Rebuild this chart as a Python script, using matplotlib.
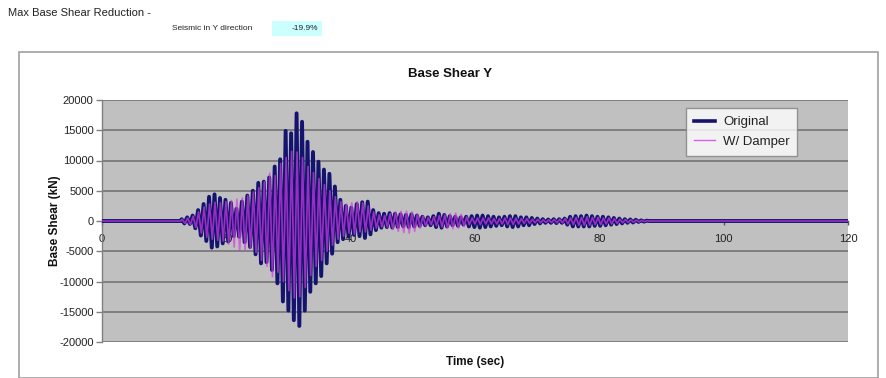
import numpy as np
import matplotlib
matplotlib.use("Agg")
import matplotlib.pyplot as plt
from matplotlib.lines import Line2D
from matplotlib.patches import Rectangle

plt.rcParams['font.family'] = ['Liberation Sans', 'DejaVu Sans']

# ---- data (half-cycle peak values) ----
t_start_orig = 12.82   # s, first half-cycle of Original
t_start_damp = 12.90   # s, first half-cycle of W/ Damper
half_period = 0.44     # s, sampling between successive peaks
t_end = 120.0

original = [
    300, -400, 600, -500, 900, -1200, 1800, -2400, 2800, -3300,
    4000, -4400, 4400, -4200, 3800, -3700, 3500, -3400, 3000, -2500,
    2000, -2600, 3200, -3500, 4200, -4300, 5000, -5500, 6300, -7000,
    6500, -6800, 7200, -8100, 9000, -10300, 10200, -13300, 14900, -14800,
    14500, -16400, 17800, -17350, 16400, -14800, 13100, -11700, 11400, -10300,
    9800, -9100, 8500, -7000, 7800, -5400, 5700, -3500, 3500, -3000,
    2500, -2600, 2200, -2300, 2800, -2500, 3100, -2800, 3200, -2200,
    1800, -1500, 1300, -1100, 1200, -1000, 1300, -1100, 1200, -1000,
    1100, -900, 1000, -1000, 1100, -900, 900, -800, 700, -700,
    600, -700, 800, -1000, 1200, -1100, 1000, -900, 800, -700,
    700, -800, 600, -600, 700, -900, 800, -1000, 900, -1100,
    900, -1000, 800, -900, 700, -800, 600, -700, 700, -900,
    800, -1000, 800, -900, 600, -700, 600, -700, 500, -500,
    400, -400, 300, -300, 250, -300, 300, -350, 300, -300,
    400, -600, 700, -900, 800, -900, 800, -900, 900, -900,
    800, -800, 700, -800, 700, -700, 600, -600, 500, -500,
    400, -400, 300, -300, 250, -250, 200, -150, 100, -100,
    50, 0,
]

damper = [
    300, -400, 500, -600, 800, -1100, 1500, -2000, 2300, -2700,
    2800, -3000, 3100, -3200, 3000, -3300, 3200, -3800, 3400, -4300,
    3600, -4900, 3800, -4700, 4200, -4500, 4800, -5200, 5500, -6500,
    6500, -7500, 7900, -9200, 7500, -8500, 9500, -10000, 10500, -11500,
    11500, -12700, 11400, -12500, 10500, -11000, 9000, -9000, 8000, -7500,
    7000, -6500, 6000, -5000, 5000, -4000, 4000, -3000, 3200, -2500,
    2800, -2000, 3000, -2200, 3200, -1800, 3000, -1800, 2500, -1500,
    1500, -1200, 1000, -1000, 900, -1000, 1200, -1400, 1500, -1700,
    1600, -1900, 1600, -2000, 1500, -1700, 1200, -1200, 800, -800,
    600, -600, 700, -800, 900, -1000, 1000, -1200, 1200, -1300,
    1300, -1200, 1100, -900, 700, -600, 500, -500, 500, -600,
    500, -500, 500, -500, 400, -500, 400, -500, 500, -600,
    500, -600, 500, -500, 400, -400, 400, -400, 300, -300,
    300, -300, 200, -250, 200, -250, 250, -300, 300, -300,
    400, -500, 500, -600, 600, -700, 600, -700, 700, -700,
    600, -600, 600, -600, 500, -500, 500, -500, 400, -400,
    300, -300, 250, -250, 200, -200, 150, -150, 100, -100,
    50, 0,
]

x_ticks = [0, 20, 40, 60, 80, 100, 120]
y_ticks = [-20000, -15000, -10000, -5000, 0, 5000, 10000, 15000, 20000]
series_names = ["Original", "W/ Damper"]
reduction_label = "Seismic in Y direction"
reduction_value = "-19.9%"


def build(values, t0):
    t = t0 + half_period * np.arange(len(values))
    t = np.concatenate([[0.0], [t0 - 0.2], t, [t_end]])
    v = np.concatenate([[0.0], [0.0], np.asarray(values, float), [0.0]])
    return t, v


t_o, v_o = build(original, t_start_orig)
t_d, v_d = build(damper, t_start_damp)

# ---- figure ----
W, H = 886, 378
fig = plt.figure(figsize=(W / 100, H / 100), dpi=100)
fig.patch.set_facecolor('white')

# chart border
fig.patches.append(Rectangle((19 / W, 0.0), (878 - 19) / W, (H - 52) / H,
                             transform=fig.transFigure, fill=False,
                             edgecolor='#a0a0a0', linewidth=1.2))

ax = fig.add_axes([102 / W, (H - 342) / H, (848 - 102) / W, (342 - 100) / H])
ax.set_facecolor('#c0c0c0')
ax.set_xlim(0, 120)
ax.set_ylim(-20000, 20000)
ax.set_yticks(y_ticks)
ax.set_yticklabels([str(v) for v in y_ticks])
ax.set_xticks(x_ticks)
ax.set_xticklabels([str(v) for v in x_ticks])
ax.yaxis.grid(True, color='#7a7a7a', linewidth=1.3)
ax.set_axisbelow(True)

for s in ['top', 'right']:
    ax.spines[s].set_visible(False)
ax.spines['left'].set_color('#808080')
ax.spines['left'].set_linewidth(1.0)
ax.spines['bottom'].set_position(('data', 0))
ax.spines['bottom'].set_color('#555555')
ax.spines['bottom'].set_linewidth(1.0)

ax.tick_params(axis='y', direction='out', length=4, width=1, color='#808080',
               labelsize=8, pad=2, labelcolor='#222222')
ax.tick_params(axis='x', direction='out', length=3, width=1, color='#555555',
               labelsize=8, pad=6, labelcolor='#222222')

ax.plot(t_o, v_o, color='#141470', linewidth=2.8, solid_joinstyle='round',
        zorder=3)
ax.plot(t_d, v_d, color='#d43ae6', linewidth=1.2, alpha=0.7, zorder=4)

# legend
handles = [Line2D([], [], color='#141470', linewidth=2.6),
           Line2D([], [], color='#d43ae6', linewidth=1.0, alpha=0.8)]
leg = ax.legend(handles, series_names, loc='upper left',
                bbox_to_anchor=((686 - 102) / 746, (342 - 108) / 242),
                frameon=True, fancybox=False, fontsize=9.5,
                handlelength=1.6, handletextpad=0.6, borderpad=0.6,
                labelspacing=0.55, borderaxespad=0)
leg.get_frame().set_edgecolor('#808080')
leg.get_frame().set_linewidth(1.0)
leg.get_frame().set_facecolor('white')
for txt in leg.get_texts():
    txt.set_color('#222222')

# titles and labels
fig.text(450 / W, 1 - 74 / H, "Base Shear Y", ha='center', va='center',
         fontsize=9.5, fontweight='bold', color='#111111')
fig.text(475 / W, 1 - 362 / H, "Time (sec)", ha='center', va='center',
         fontsize=8.5, fontweight='bold', color='#111111')
fig.text(55 / W, 1 - 221 / H, "Base Shear (kN)", ha='center', va='center',
         rotation=90, fontsize=8.5, fontweight='bold', color='#111111')

# header
fig.text(8 / W, 1 - 13 / H, "Max Base Shear Reduction -", ha='left',
         va='center', fontsize=8, color='#222222')
fig.text(172 / W, 1 - 29 / H, reduction_label, ha='left', va='center',
         fontsize=6, color='#222222')
fig.patches.append(Rectangle((272 / W, 1 - 36 / H), 50 / W, 15 / H,
                             transform=fig.transFigure, facecolor='#ccffff',
                             edgecolor='none'))
fig.text(318 / W, 1 - 29 / H, reduction_value, ha='right', va='center',
         fontsize=6, color='#222222')

fig.savefig("out.png", dpi=100, facecolor='white')
